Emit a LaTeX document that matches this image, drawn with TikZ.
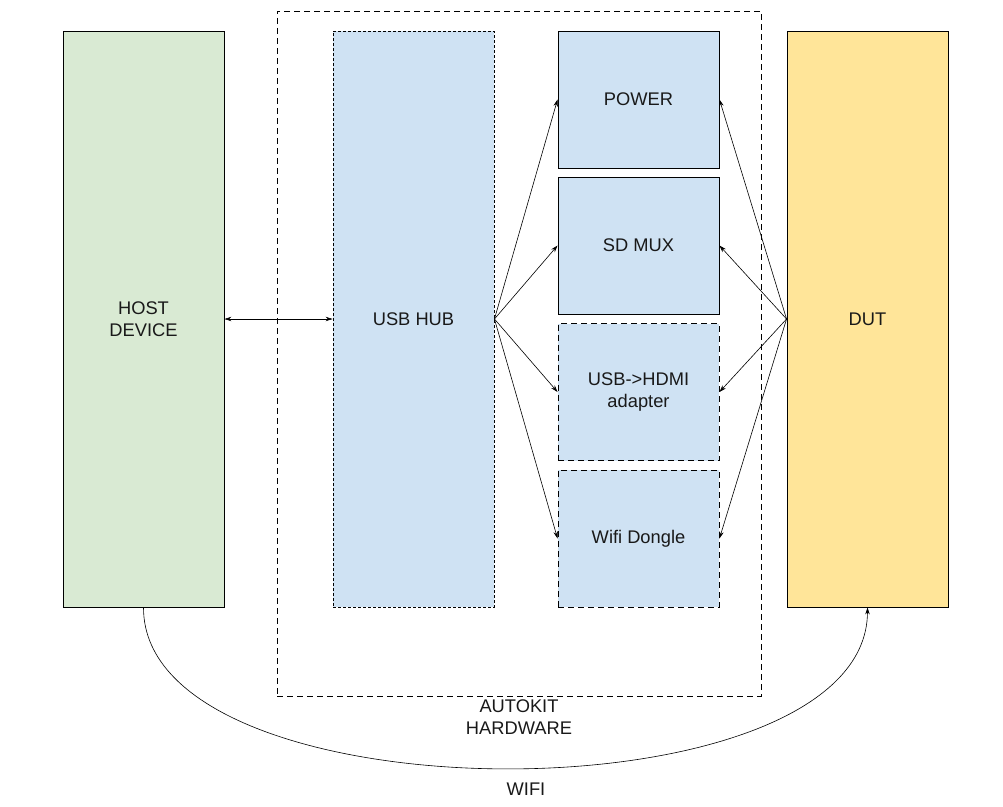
\documentclass[tikz,border=0pt]{standalone}
\usepackage{fontspec}
\setmainfont{Liberation Sans}
\usetikzlibrary{arrows.meta}
\definecolor{hostgreen}{HTML}{D9EAD3}
\definecolor{boxblue}{HTML}{CFE2F3}
\definecolor{dutyellow}{HTML}{FFE599}
\begin{document}
\begin{tikzpicture}[x=1pt,y=-1pt,
  box/.style={draw=black, line width=0.9pt, rectangle, inner sep=0pt, align=center,
    font=\fontsize{18.3}{22.5}\selectfont, text=black!90},
  tall/.style={box, minimum width=161pt, minimum height=576pt},
  small/.style={box, fill=boxblue, minimum width=161pt, minimum height=137pt},
  longdash/.style={dash pattern=on 6pt off 4pt},
  shortdash/.style={dash pattern=on 3pt off 2pt},
  conn/.style={draw=black, line width=0.6pt, -{Stealth[length=7pt,width=4.5pt]}},
  lbl/.style={align=center, font=\fontsize{18.3}{22.5}\selectfont, text=black!90}
]
\useasboundingbox (0,0) rectangle (1003,806);
\fill[white] (0,0) rectangle (1003,806);

% Autokit outer dashed frame
\node[draw=black, line width=0.9pt, longdash, minimum width=484pt, minimum height=685pt, inner sep=0pt] (frame) at (519,353.5) {};

\node[tall, fill=hostgreen] (host) at (143.5,319) {HOST\\DEVICE};
\node[tall, fill=boxblue, shortdash] (hub) at (413.5,319) {USB HUB};
\node[tall, fill=dutyellow] (dut) at (867.5,319) {DUT};

\node[small] (power) at (638.5,99.5) {POWER};
\node[small] (sdmux) at (638.5,245.5) {SD MUX};
\node[small, longdash] (hdmi) at (638.5,392) {USB->HDMI\\adapter};
\node[small, longdash] (wifi) at (638.5,538.5) {Wifi Dongle};

\node[lbl] (autokit) at (519,717) {AUTOKIT\\HARDWARE};
\node[lbl] (wifilbl) at (526,789) {WIFI};

% connectors
\draw[conn, {Stealth[length=7pt,width=4.5pt]}-{Stealth[length=7pt,width=4.5pt]}] (host.east) -- (hub.west);
\foreach \t in {power,sdmux,hdmi,wifi}{
  \draw[conn] (hub.east) -- (\t.west);
  \draw[conn] (dut.west) -- (\t.east);
}
\draw[conn] (host.south) .. controls (143,822) and (867,822) .. (dut.south);
\end{tikzpicture}
\end{document}
